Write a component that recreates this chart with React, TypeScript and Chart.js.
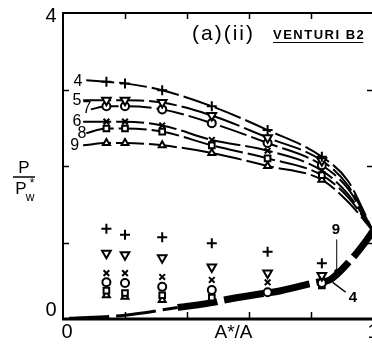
import React, { useEffect, useRef } from "react";
import { Chart, registerables } from "chart.js";
Chart.register(...registerables);

// A*/A positions of the measured points
const xMarks = [0.14, 0.2, 0.32, 0.48, 0.66, 0.835];
const curveNames = ["4", "5", "7", "6", "8", "9"];
// upper branch measured values (p / p_w*)
const up4 = [3.1, 3.08, 2.99, 2.78, 2.47, 2.12];
const up5 = [2.86, 2.86, 2.83, 2.66, 2.37, 2.07];
const up7 = [2.78, 2.78, 2.74, 2.56, 2.3, 2.01];
const up6 = [2.58, 2.58, 2.53, 2.34, 2.2, 1.94];
const up8 = [2.49, 2.49, 2.45, 2.27, 2.1, 1.88];
const up9 = [2.3, 2.3, 2.27, 2.17, 2.0, 1.82];
// curve start (x, y) and value near throat
const curveStartX = [0.075, 0.065, 0.09, 0.065, 0.075, 0.065];
const curveStartY = [3.12, 2.86, 2.74, 2.58, 2.43, 2.27];
const curveNearX = 0.92;
const curveNearY = [1.8, 1.74, 1.7, 1.63, 1.59, 1.53];
const throatX = 1.0;
const throatY = 1.15;
// lower branch (theory curve)
const lowX = [0.02, 0.2, 0.37, 0.49, 0.51, 0.64, 0.69, 0.82, 0.86, 0.93, 0.97, 1.0];
const lowY = [0.01, 0.05, 0.15, 0.22, 0.24, 0.33, 0.36, 0.48, 0.51, 0.78, 0.98, 1.15];
// lower measured values
const lo4 = [1.18, 1.1, 1.07, 0.99, 0.88, 0.73];
const lo5 = [0.86, 0.84, 0.8, 0.68, 0.6, 0.57];
const lo6 = [0.6, 0.6, 0.55, 0.51, 0.48, 0.51];
const lo7 = [0.48, 0.47, 0.42, 0.38, 0.35, 0.47];
const lo8 = [0.37, 0.34, 0.31, 0.28, null, 0.44];
const lo9 = [0.31, 0.29, 0.25, null, null, null];

const upperSets = [up4, up5, up7, up6, up8, up9];
const lowerSets = [lo4, lo5, lo7, lo6, lo8, lo9];
const styles: any[] = [
  { pointStyle: "cross", radius: 5, rotation: 0 },
  { pointStyle: "triangle", radius: 5, rotation: 180 },
  { pointStyle: "circle", radius: 4, rotation: 0 },
  { pointStyle: "crossRot", radius: 4, rotation: 0 },
  { pointStyle: "rect", radius: 4, rotation: 0 },
  { pointStyle: "triangle", radius: 4, rotation: 0 },
];
// label positions in data units
const labelX = [0.048, 0.045, 0.077, 0.045, 0.061, 0.038];
const labelY = [3.1, 2.86, 2.75, 2.58, 2.43, 2.27];

const FONT = "'Liberation Sans', 'DejaVu Sans', sans-serif";

const framePlugin = {
  id: "frame",
  afterDraw(chart: any) {
    const { ctx, chartArea: a, scales } = chart;
    const xs = scales.x, ys = scales.y;
    ctx.save();
    ctx.strokeStyle = "#000";
    ctx.fillStyle = "#000";
    ctx.lineCap = "butt";
    // frame
    ctx.lineWidth = 2;
    ctx.beginPath();
    ctx.moveTo(a.left, a.bottom);
    ctx.lineTo(a.left, a.top);
    ctx.lineTo(a.right, a.top);
    ctx.lineTo(a.right, a.bottom);
    ctx.stroke();
    ctx.lineWidth = 3;
    ctx.beginPath();
    ctx.moveTo(a.left - 1, a.bottom);
    ctx.lineTo(a.right, a.bottom);
    ctx.stroke();
    // ticks
    ctx.lineWidth = 1.5;
    [0.2, 0.4, 0.6, 0.8].forEach((v) => {
      const px = Math.round(xs.getPixelForValue(v)) + 0.5;
      ctx.beginPath();
      ctx.moveTo(px, a.bottom);
      ctx.lineTo(px, a.bottom - 7);
      ctx.moveTo(px, a.top);
      ctx.lineTo(px, a.top + 6);
      ctx.stroke();
    });
    [1, 2, 3].forEach((v) => {
      const py = Math.round(ys.getPixelForValue(v)) + 0.5;
      ctx.beginPath();
      ctx.moveTo(a.left, py);
      ctx.lineTo(a.left + 6, py);
      ctx.moveTo(a.right, py);
      ctx.lineTo(a.right - 6, py);
      ctx.stroke();
    });
    // tick labels
    ctx.font = `20px ${FONT}`;
    ctx.textAlign = "center";
    ctx.textBaseline = "middle";
    ctx.fillText("4", a.left - 12, ys.getPixelForValue(4) + 3);
    ctx.fillText("0", a.left - 12, ys.getPixelForValue(0) - 9);
    ctx.fillText("0", xs.getPixelForValue(0) + 4, a.bottom + 13);
    ctx.fillText("1", xs.getPixelForValue(1), a.bottom + 13);
    // x title
    ctx.font = `19px ${FONT}`;
    ctx.fillText("A*/A", xs.getPixelForValue(0.55), a.bottom + 14);
    // y title fraction
    ctx.font = `17px ${FONT}`;
    ctx.fillText("P", 24, 168);
    ctx.lineWidth = 1.5;
    ctx.beginPath();
    ctx.moveTo(13, 177);
    ctx.lineTo(35, 177);
    ctx.stroke();
    ctx.fillText("P", 21, 189);
    ctx.font = `12px ${FONT}`;
    ctx.fillText("w", 30, 198);
    ctx.fillText("*", 32, 184);
    // chart title
    ctx.textAlign = "left";
    ctx.font = `21px ${FONT}`;
    (ctx as any).letterSpacing = "2px";
    ctx.fillText("(a)(ii)", 192, 34);
    ctx.font = `bold 13px ${FONT}`;
    (ctx as any).letterSpacing = "1.5px";
    const t = "VENTURI B2";
    ctx.fillText(t, 273, 35);
    const w = ctx.measureText(t).width;
    (ctx as any).letterSpacing = "0px";
    ctx.lineWidth = 1.2;
    ctx.beginPath();
    ctx.moveTo(273, 42.5);
    ctx.lineTo(273 + w - 2, 42.5);
    ctx.stroke();
    // curve labels
    ctx.font = `16px ${FONT}`;
    ctx.textAlign = "center";
    curveNames.forEach((n, i) => {
      ctx.fillText(n, xs.getPixelForValue(labelX[i]), ys.getPixelForValue(labelY[i]));
    });
    // annotations 9 and 4 near throat
    ctx.font = `bold 15px ${FONT}`;
    ctx.fillText("9", xs.getPixelForValue(0.88), ys.getPixelForValue(1.16));
    ctx.fillText("4", xs.getPixelForValue(0.935), ys.getPixelForValue(0.27));
    ctx.lineWidth = 1;
    ctx.beginPath();
    ctx.moveTo(xs.getPixelForValue(0.883), ys.getPixelForValue(1.04));
    ctx.lineTo(xs.getPixelForValue(0.883), ys.getPixelForValue(0.64));
    ctx.stroke();
    ctx.beginPath();
    ctx.arc(xs.getPixelForValue(0.883), ys.getPixelForValue(0.62), 2.5, 0, Math.PI * 2);
    ctx.fill();
    ctx.lineWidth = 1.5;
    ctx.beginPath();
    ctx.moveTo(xs.getPixelForValue(0.912), ys.getPixelForValue(0.35));
    ctx.lineTo(xs.getPixelForValue(0.87), ys.getPixelForValue(0.48));
    ctx.stroke();
    ctx.restore();
  },
};

export default function App() {
  const ref = useRef<HTMLCanvasElement>(null);
  useEffect(() => {
    if (!ref.current) return;
    const datasets: any[] = [];
    upperSets.forEach((vals, i) => {
      const pts = [{ x: curveStartX[i], y: curveStartY[i] }]
        .concat(xMarks.map((x, j) => ({ x, y: vals[j] })))
        .concat([{ x: curveNearX, y: curveNearY[i] }, { x: throatX, y: throatY }]);
      datasets.push({
        type: "line",
        data: pts,
        borderColor: "#000",
        borderWidth: 2,
        borderDash: [28, 5],
        pointRadius: 0,
        cubicInterpolationMode: "monotone",
        fill: false,
        order: 2,
      });
    });
    datasets.push({
      type: "line",
      data: lowX.map((x, j) => ({ x, y: lowY[j] })),
      borderColor: "#000",
      borderWidth: 6,
      borderDash: [40, 7],
      pointRadius: 0,
      cubicInterpolationMode: "monotone",
      segment: {
        borderWidth: (c: any) => (c.p0.parsed.x < 0.36 ? 3 : 7),
      },
      fill: false,
      order: 2,
    });
    [upperSets, lowerSets].forEach((sets) => {
      sets.forEach((vals, i) => {
        const st = styles[i];
        datasets.push({
          type: "scatter",
          data: xMarks
            .map((x, j) => ({ x, y: vals[j] }))
            .filter((p) => p.y !== null && p.y !== undefined),
          pointStyle: st.pointStyle,
          pointRadius: st.radius,
          rotation: st.rotation,
          pointBorderColor: "#000",
          pointBackgroundColor: "#fff",
          pointBorderWidth: 2,
          showLine: false,
          order: 1,
        });
      });
    });
    const chart = new Chart(ref.current, {
      type: "scatter",
      data: { datasets },
      options: {
        animation: false,
        responsive: false,
        devicePixelRatio: 1,
        layout: { padding: { left: 63, right: 5, top: 13, bottom: 27 } },
        plugins: { legend: { display: false }, tooltip: { enabled: false } },
        scales: {
          x: { type: "linear", min: 0, max: 1, display: false },
          y: { type: "linear", min: 0, max: 4, display: false },
        },
      },
      plugins: [framePlugin],
    } as any);
    return () => chart.destroy();
  }, []);
  return (
    <div
      style={{
        position: "fixed",
        left: 0,
        top: 0,
        width: 372,
        height: 346,
        overflow: "hidden",
        background: "#fff",
      }}
    >
      <canvas ref={ref} width={380} height={346} style={{ display: "block" }} />
    </div>
  );
}
